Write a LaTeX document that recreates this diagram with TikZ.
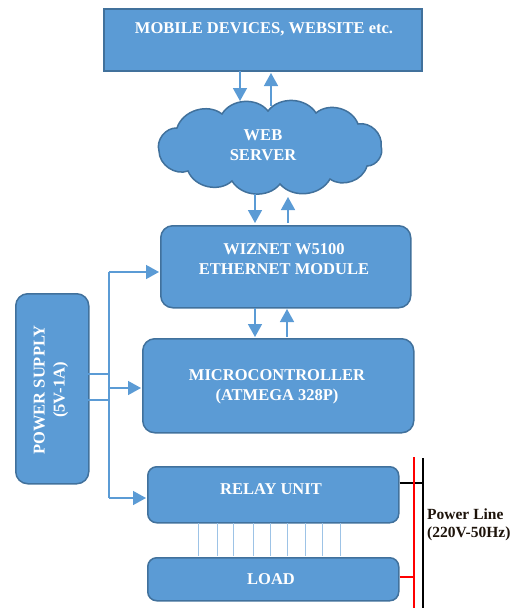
\documentclass[tikz,border=0pt]{standalone}
\usepackage{fontspec}
\setmainfont{Liberation Serif}
\usetikzlibrary{arrows.meta}
\definecolor{fillb}{HTML}{5B9BD5}
\definecolor{edgeb}{HTML}{41719C}
\definecolor{lineb}{HTML}{5B9BD5}
\definecolor{thinb}{HTML}{9DC3E6}
\begin{document}
\begin{tikzpicture}[x=1pt,y=-1pt,
  txt/.style={text=white,font=\bfseries\fontsize{16.5}{20}\selectfont,align=center,inner sep=0pt},
  blk/.style={draw=edgeb,fill=fillb,line width=1.5pt,inner sep=0pt},
  rblk/.style={blk,rounded corners=12pt},
  arr/.style={draw=lineb,line width=1.5pt,-{Triangle[width=14pt,length=13pt]}},
  pl/.style={line width=2.5pt}]
\useasboundingbox (0,0) rectangle (520,608);
% top box
\node[blk,minimum width=318pt,minimum height=62pt,anchor=north west] (top) at (103,8) {};
\node[txt] (toptxt) at (264,29) {MOBILE DEVICES, WEBSITE etc.};
% cloud
\coordinate (c1) at (159,151);
\coordinate (c2) at (177,128);
\coordinate (c3) at (222,114);
\coordinate (c4) at (268,111);
\coordinate (c5) at (316,113);
\coordinate (c6) at (358,124);
\coordinate (c7) at (381,146);
\coordinate (c8) at (367,166);
\coordinate (c9) at (330,179);
\coordinate (c10) at (280,184);
\coordinate (c11) at (232,181);
\coordinate (c12) at (188,171);
\draw[blk,bend left=55] (c1) to (c2) to (c3) to (c4) to (c5) to (c6) to (c7) to (c8)
  to (c9) to (c10) to (c11) to (c12) to (c1) -- cycle;
\node[txt] (web) at (263,145) {WEB\\SERVER};
% wiznet
\node[rblk,minimum width=250pt,minimum height=82pt,anchor=north west] (wiz) at (160,225) {};
\node[txt] (wiztxt) at (284,259) {WIZNET W5100\\ETHERNET MODULE};
% micro
\node[rblk,minimum width=271pt,minimum height=94pt,anchor=north west] (mcu) at (142,338) {};
\node[txt] (mcutxt) at (277,387) {MICROCONTROLLER\\(ATMEGA 328P)};
% power supply
\node[rblk,minimum width=73pt,minimum height=190pt,anchor=north west] (ps) at (15,293) {};
\node[txt,rotate=90] (pstxt) at (51,390) {POWER SUPPLY\\(5V-1A)};
% relay
\node[rblk,rounded corners=9pt,minimum width=251pt,minimum height=56pt,anchor=north west] (relay) at (147,466) {};
\node[txt] (relaytxt) at (271,489) {RELAY UNIT};
% load
\node[rblk,rounded corners=9pt,minimum width=251pt,minimum height=43pt,anchor=north west] (load) at (147,557) {};
\node[txt] (loadtxt) at (271,579) {LOAD};
% arrows top<->cloud
\draw[arr] (240,71) -- (240,101);
\draw[arr] (271,106) -- (271,73);
% cloud<->wiz
\draw[arr] (255,194) -- (255,223);
\draw[arr] (288,223) -- (288,197);
% wiz<->mcu
\draw[arr] (255,308) -- (255,337);
\draw[arr] (287,337) -- (287,309);
% power supply distribution
\coordinate (trt) at (109,272);
\coordinate (trb) at (109,498);
\draw[lineb,line width=1.5pt] (88,374) -- (109,374);
\draw[lineb,line width=1.5pt] (88,400) -- (109,400);
\draw[lineb,line width=1.5pt] (trt) -- (trb);
\draw[arr] (trt) -- (159,272);
\draw[arr] (109,388) -- (141,388);
\draw[arr] (trb) -- (146,498);
% relay to load thin lines
\foreach \x in {198,217,233,253,270,287,305,322,340}
  \draw[thinb,line width=1pt] (\x,523) -- (\x,556);
% power line
\coordinate (rtop) at (414,457);
\coordinate (rbot) at (414,608);
\coordinate (btop) at (423,458);
\coordinate (bbot) at (423,608);
\draw[black,pl] (relay.east |- 0,483) -- (423,483);
\draw[red,pl] (load.east |- 0,577) -- (414,577);
\draw[red,pl] (rtop) -- (rbot);
\draw[black,pl] (btop) -- (bbot);
\node[font=\bfseries\fontsize{15.5}{18}\selectfont,align=left,anchor=west,inner sep=0pt,text=black!85!brown] (pltxt) at (427,525) {Power Line\\(220V-50Hz)};
\end{tikzpicture}
\end{document}
